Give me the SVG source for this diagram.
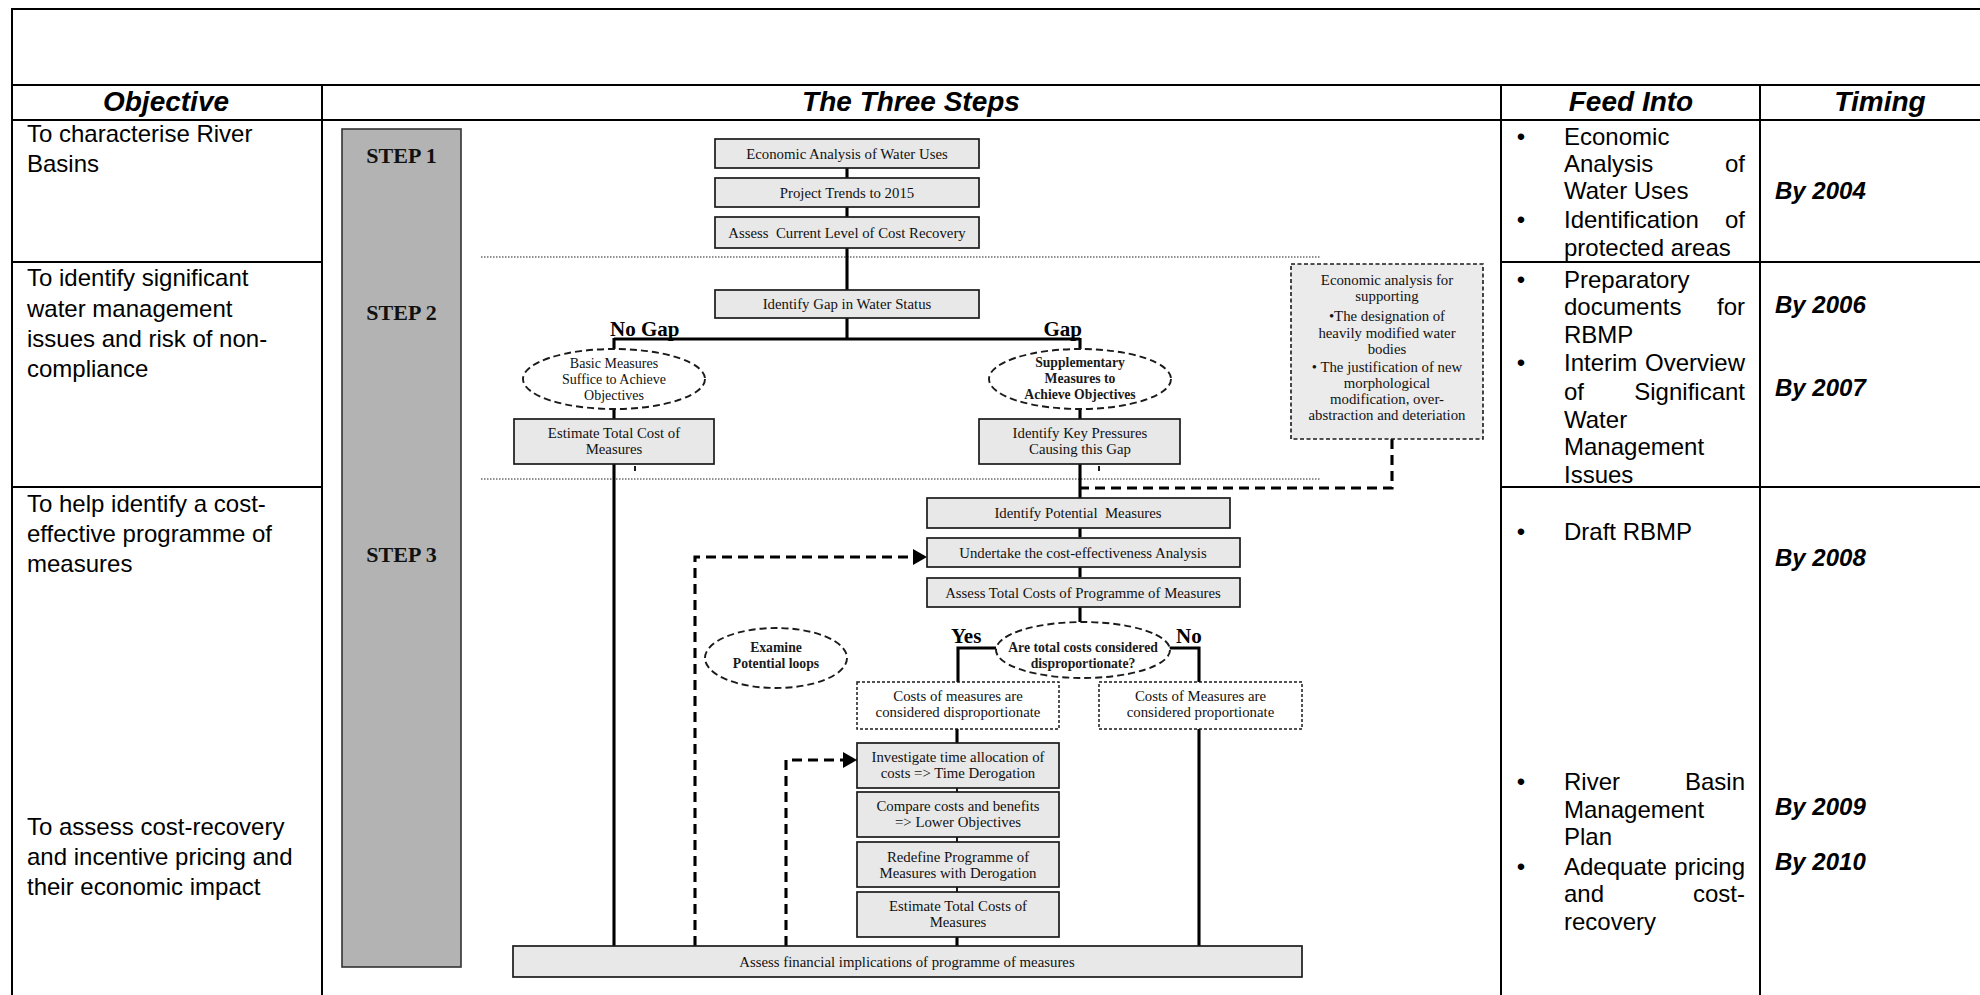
<svg xmlns="http://www.w3.org/2000/svg" width="1980" height="995" viewBox="0 0 1980 995">
<defs>
<style>
.tbl{stroke:#000;stroke-width:2;fill:none}
.hdr{font-family:"Liberation Sans",Arial,sans-serif;font-weight:bold;font-style:italic;font-size:28px;text-anchor:middle;fill:#000}
.obj{font-family:"Liberation Sans",Arial,sans-serif;font-size:24px;fill:#000}
.objr{font-family:"Liberation Sans",Arial,sans-serif;font-size:24px;fill:#000;text-anchor:end}
.bul{font-family:"Liberation Sans",Arial,sans-serif;font-size:24px;fill:#000;text-anchor:middle}
.tim{font-family:"Liberation Sans",Arial,sans-serif;font-size:24px;font-weight:bold;font-style:italic;fill:#000}
.box{fill:#e8e8e8;stroke:#1a1a1a;stroke-width:1.7}
.ebox{fill:#ebebeb;stroke:#1a1a1a;stroke-width:1.6;stroke-dasharray:4,2.5}
.dbox{fill:#fff;stroke:#1a1a1a;stroke-width:1.5;stroke-dasharray:3,2}
.ell{fill:#fff;stroke:#1a1a1a;stroke-width:1.9;stroke-dasharray:7,4}
.stepbox{fill:#b3b3b3;stroke:#333;stroke-width:1.6}
.t{font-family:"Liberation Serif","Times New Roman",serif;font-size:14.8px;text-anchor:middle;fill:#111}
.te{font-family:"Liberation Serif","Times New Roman",serif;font-size:14px;text-anchor:middle;fill:#111}
.tb{font-family:"Liberation Serif","Times New Roman",serif;font-size:13.7px;font-weight:bold;text-anchor:middle;fill:#1a1a1a}
.lbl{font-family:"Liberation Serif","Times New Roman",serif;font-size:21px;font-weight:bold;fill:#000}
.step{font-family:"Liberation Serif","Times New Roman",serif;font-size:22px;font-weight:bold;text-anchor:middle;fill:#111}
.ln{stroke:#000;stroke-width:3.1;fill:none}
.thin{stroke:#000;stroke-width:1.8;fill:none}
.dl{stroke:#000;stroke-width:3.1;fill:none;stroke-dasharray:10,6}
.dot{stroke:#222;stroke-width:1.2;stroke-dasharray:1.5,1.5;fill:none}
</style>
<marker id="ah" markerUnits="userSpaceOnUse" markerWidth="15" markerHeight="16" refX="14" refY="8" orient="auto">
<path d="M0,0 L14,8 L0,16 z" fill="#000"/>
</marker>
</defs>
<rect width="1980" height="995" fill="#fff"/>

<g id="table">
<line class="tbl" x1="12" y1="9" x2="1980" y2="9" stroke-width="2.4"/>
<line class="tbl" x1="12" y1="8" x2="12" y2="995" stroke-width="2.4"/>
<line class="tbl" x1="12" y1="85" x2="1980" y2="85"/>
<line class="tbl" x1="12" y1="120" x2="1980" y2="120"/>
<line class="tbl" x1="322" y1="85" x2="322" y2="995"/>
<line class="tbl" x1="1501" y1="85" x2="1501" y2="995"/>
<line class="tbl" x1="1760" y1="85" x2="1760" y2="995"/>
<line class="tbl" x1="12" y1="262" x2="322" y2="262"/>
<line class="tbl" x1="12" y1="487" x2="322" y2="487"/>
<line class="tbl" x1="1501" y1="262" x2="1980" y2="262"/>
<line class="tbl" x1="1501" y1="487" x2="1980" y2="487"/>
<text class="hdr" x="166" y="111">Objective</text>
<text class="hdr" x="911" y="111">The Three Steps</text>
<text class="hdr" x="1631" y="111">Feed Into</text>
<text class="hdr" x="1880" y="111">Timing</text>
</g>

<g id="objectives">
<text class="obj" x="27" y="142">To characterise River</text>
<text class="obj" x="27" y="172">Basins</text>
<text class="obj" x="27" y="286">To identify significant</text>
<text class="obj" x="27" y="317">water management</text>
<text class="obj" x="27" y="347">issues and risk of non-</text>
<text class="obj" x="27" y="377">compliance</text>
<text class="obj" x="27" y="512">To help identify a cost-</text>
<text class="obj" x="27" y="542">effective programme of</text>
<text class="obj" x="27" y="572">measures</text>
<text class="obj" x="27" y="835">To assess cost-recovery</text>
<text class="obj" x="27" y="865">and incentive pricing and</text>
<text class="obj" x="27" y="895">their economic impact</text>
</g>

<g id="feed-into">
<text class="bul" x="1521" y="145">•</text>
<text class="obj" x="1564" y="145">Economic</text>
<text class="obj" x="1564" y="172">Analysis</text><text class="objr" x="1745" y="172">of</text>
<text class="obj" x="1564" y="199">Water Uses</text>
<text class="bul" x="1521" y="228">•</text>
<text class="obj" x="1564" y="228">Identification</text><text class="objr" x="1745" y="228">of</text>
<text class="obj" x="1564" y="256">protected areas</text>
<text class="bul" x="1521" y="288">•</text>
<text class="obj" x="1564" y="288">Preparatory</text>
<text class="obj" x="1564" y="315">documents</text><text class="objr" x="1745" y="315">for</text>
<text class="obj" x="1564" y="343">RBMP</text>
<text class="bul" x="1521" y="371">•</text>
<text class="obj" x="1564" y="371">Interim</text><text class="objr" x="1745" y="371">Overview</text>
<text class="obj" x="1564" y="400">of</text><text class="objr" x="1745" y="400">Significant</text>
<text class="obj" x="1564" y="428">Water</text>
<text class="obj" x="1564" y="455">Management</text>
<text class="obj" x="1564" y="483">Issues</text>
<text class="bul" x="1521" y="540">•</text>
<text class="obj" x="1564" y="540">Draft RBMP</text>
<text class="bul" x="1521" y="790">•</text>
<text class="obj" x="1564" y="790">River</text><text class="objr" x="1745" y="790">Basin</text>
<text class="obj" x="1564" y="818">Management</text>
<text class="obj" x="1564" y="845">Plan</text>
<text class="bul" x="1521" y="875">•</text>
<text class="obj" x="1564" y="875">Adequate</text><text class="objr" x="1745" y="875">pricing</text>
<text class="obj" x="1564" y="902">and</text><text class="objr" x="1745" y="902">cost-</text>
<text class="obj" x="1564" y="930">recovery</text>
</g>

<g id="timing">
<text class="tim" x="1775" y="199">By 2004</text>
<text class="tim" x="1775" y="313">By 2006</text>
<text class="tim" x="1775" y="396">By 2007</text>
<text class="tim" x="1775" y="566">By 2008</text>
<text class="tim" x="1775" y="815">By 2009</text>
<text class="tim" x="1775" y="870">By 2010</text>
</g>

<g id="steps-bar">
<rect class="stepbox" x="342" y="129" width="119" height="838"/>
<text class="step" x="401.5" y="162.5">STEP 1</text>
<text class="step" x="401.5" y="320">STEP 2</text>
<text class="step" x="401.5" y="561.5">STEP 3</text>
</g>

<g id="separators">
<line class="dot" x1="481" y1="257" x2="1320" y2="257"/>
<line class="dot" x1="481" y1="479" x2="1320" y2="479"/>
</g>

<g id="connectors">
<line class="ln" x1="847" y1="168" x2="847" y2="178"/>
<line class="ln" x1="847" y1="207" x2="847" y2="217"/>
<line class="ln" x1="847" y1="248" x2="847" y2="290"/>
<line class="ln" x1="847" y1="318" x2="847" y2="339"/>
<line class="ln" x1="614" y1="339" x2="1080" y2="339"/>
<line class="ln" x1="614" y1="338" x2="614" y2="349"/>
<line class="ln" x1="1080" y1="338" x2="1080" y2="349"/>
<line class="ln" x1="614" y1="409" x2="614" y2="419"/>
<line class="ln" x1="1080" y1="409" x2="1080" y2="419"/>
<line class="ln" x1="614" y1="464" x2="614" y2="946"/>
<line class="ln" x1="1080" y1="464" x2="1080" y2="498"/>
<line class="thin" x1="635" y1="466" x2="635" y2="471"/>
<line class="thin" x1="1099" y1="466" x2="1099" y2="471"/>
<path class="dl" d="M1392,439 V488 H1080"/>
<line class="ln" x1="1080" y1="528" x2="1080" y2="537"/>
<line class="ln" x1="1080" y1="567" x2="1080" y2="577"/>
<line class="ln" x1="1080" y1="607" x2="1080" y2="622"/>
<path class="ln" d="M996,648 H958 V682"/>
<path class="ln" d="M1166,648 H1199 V682"/>
<line class="ln" x1="1199" y1="729" x2="1199" y2="946"/>
<line class="ln" x1="957" y1="729" x2="957" y2="743"/>
<line class="thin" x1="957" y1="788" x2="957" y2="792"/>
<line class="thin" x1="957" y1="837" x2="957" y2="842"/>
<line class="thin" x1="957" y1="887" x2="957" y2="892"/>
<line class="ln" x1="957" y1="937" x2="957" y2="946"/>
<path class="dl" d="M695,946 V557 H927" marker-end="url(#ah)"/>
<path class="dl" d="M786,946 V760 H857" marker-end="url(#ah)"/>
</g>

<g id="n-econ-uses">
<rect class="box" x="715" y="139" width="264" height="29"/>
<text class="t" x="847" y="158.5">Economic Analysis of Water Uses</text>
</g>
<g id="n-trends">
<rect class="box" x="715" y="178" width="264" height="29"/>
<text class="t" x="847" y="197.5">Project Trends to 2015</text>
</g>
<g id="n-cost-recovery">
<rect class="box" x="715" y="217" width="264" height="31"/>
<text class="t" x="847" y="237.5" xml:space="preserve">Assess  Current Level of Cost Recovery</text>
</g>
<g id="n-gap">
<rect class="box" x="715" y="290" width="264" height="28"/>
<text class="t" x="847" y="309">Identify Gap in Water Status</text>
</g>
<g id="n-nogap-label"><text class="lbl" x="610" y="336">No Gap</text></g>
<g id="n-gap-label"><text class="lbl" x="1082" y="336" text-anchor="end">Gap</text></g>
<g id="n-basic">
<ellipse class="ell" cx="614" cy="379" rx="91" ry="30"/>
<text class="te" x="614" y="367.5">Basic Measures</text>
<text class="te" x="614" y="383.5">Suffice to Achieve</text>
<text class="te" x="614" y="399.5">Objectives</text>
</g>
<g id="n-supp">
<ellipse class="ell" cx="1080" cy="379" rx="91" ry="30"/>
<text class="tb" x="1080" y="367">Supplementary</text>
<text class="tb" x="1080" y="383">Measures to</text>
<text class="tb" x="1080" y="399">Achieve Objectives</text>
</g>
<g id="n-est-cost">
<rect class="box" x="514" y="419" width="200" height="45"/>
<text class="t" x="614" y="438">Estimate Total Cost of</text>
<text class="t" x="614" y="454">Measures</text>
</g>
<g id="n-pressures">
<rect class="box" x="979" y="419" width="201" height="45"/>
<text class="t" x="1080" y="438">Identify Key Pressures</text>
<text class="t" x="1080" y="454">Causing this Gap</text>
</g>
<g id="n-econ-support">
<rect class="ebox" x="1291" y="264" width="192" height="175"/>
<text class="t" x="1387" y="285">Economic analysis for</text>
<text class="t" x="1387" y="301">supporting</text>
<text class="t" x="1387" y="321">•The designation of</text>
<text class="t" x="1387" y="338">heavily modified water</text>
<text class="t" x="1387" y="354">bodies</text>
<text class="t" x="1387" y="372">• The justification of new</text>
<text class="t" x="1387" y="388">morphological</text>
<text class="t" x="1387" y="404">modification, over-</text>
<text class="t" x="1387" y="420">abstraction and deteriation</text>
</g>
<g id="n-potential">
<rect class="box" x="927" y="498" width="303" height="30"/>
<text class="t" x="1078" y="518" xml:space="preserve">Identify Potential  Measures</text>
</g>
<g id="n-cea">
<rect class="box" x="927" y="538" width="313" height="29"/>
<text class="t" x="1083" y="557.5">Undertake the cost-effectiveness Analysis</text>
</g>
<g id="n-total">
<rect class="box" x="927" y="578" width="313" height="29"/>
<text class="t" x="1083" y="597.5">Assess Total Costs of Programme of Measures</text>
</g>
<g id="n-loops">
<ellipse class="ell" cx="776" cy="658" rx="71" ry="30"/>
<text class="tb" x="776" y="652">Examine</text>
<text class="tb" x="776" y="668">Potential loops</text>
</g>
<g id="n-decision">
<ellipse class="ell" cx="1083" cy="650" rx="87" ry="28"/>
<text class="tb" x="1083" y="652">Are total costs considered</text>
<text class="tb" x="1083" y="668">disproportionate?</text>
</g>
<g id="n-yes"><text class="lbl" x="951" y="643">Yes</text></g>
<g id="n-no"><text class="lbl" x="1176" y="643">No</text></g>
<g id="n-disprop">
<rect class="dbox" x="857" y="682" width="202" height="47"/>
<text class="t" x="958" y="700.5">Costs of measures are</text>
<text class="t" x="958" y="716.5">considered disproportionate</text>
</g>
<g id="n-prop">
<rect class="dbox" x="1099" y="682" width="203" height="47"/>
<text class="t" x="1200.5" y="700.5">Costs of Measures are</text>
<text class="t" x="1200.5" y="716.5">considered proportionate</text>
</g>
<g id="n-time">
<rect class="box" x="857" y="743" width="202" height="45"/>
<text class="t" x="958" y="761.5">Investigate time allocation of</text>
<text class="t" x="958" y="777.5">costs =&gt; Time Derogation</text>
</g>
<g id="n-compare">
<rect class="box" x="857" y="792" width="202" height="45"/>
<text class="t" x="958" y="811">Compare costs and benefits</text>
<text class="t" x="958" y="827">=&gt; Lower Objectives</text>
</g>
<g id="n-redefine">
<rect class="box" x="857" y="842" width="202" height="45"/>
<text class="t" x="958" y="861.5">Redefine Programme of</text>
<text class="t" x="958" y="877.5">Measures with Derogation</text>
</g>
<g id="n-est-total">
<rect class="box" x="857" y="892" width="202" height="45"/>
<text class="t" x="958" y="911">Estimate Total Costs of</text>
<text class="t" x="958" y="927">Measures</text>
</g>
<g id="n-financial">
<rect class="box" x="513" y="946" width="789" height="31"/>
<text class="t" x="907" y="966.5">Assess financial implications of programme of measures</text>
</g>
</svg>
